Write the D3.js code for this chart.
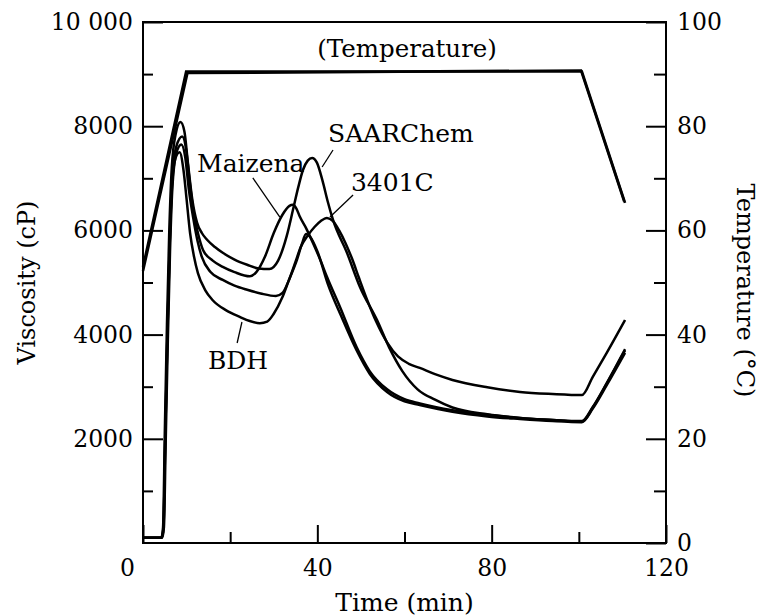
<!DOCTYPE html>
<html>
<head>
<meta charset="utf-8">
<script src="https://cdn.jsdelivr.net/npm/d3@7/dist/d3.min.js"></script>
<style>
    body { margin: 0; background: #fff; }
    text { font-family: "DejaVu Serif", serif; fill: #000; }
</style>
</head>
<body>
<script>
// viscosity runs (time in min, viscosity in cP)
var saarT = [0, 4.2, 4.6, 5.0, 5.5, 6.0, 6.6, 7.5, 8.6, 9.5, 10.3, 11.3, 12.4, 13.5, 14.7, 16.5, 18.3, 21, 23.9, 26.5, 29, 31, 33, 34.4, 35.6, 36.7, 37.8, 38.8, 39.9, 41.2, 42.4, 43.6, 46.8, 49.8, 53.7, 56.5, 59.5, 63, 67, 71, 79, 86.5, 94, 100.7, 103.2, 106.4, 110.6];
var saarV = [100, 100, 300, 2100, 4200, 5900, 7200, 7850, 8080, 7900, 7300, 6600, 6150, 5950, 5820, 5680, 5570, 5440, 5340, 5270, 5260, 5420, 5900, 6390, 6820, 7160, 7340, 7390, 7300, 6950, 6550, 6200, 5570, 4910, 4280, 3750, 3300, 2950, 2750, 2600, 2470, 2400, 2360, 2330, 2600, 3060, 3700];

var mazT = [0, 4.3, 4.7, 5.1, 5.6, 6.1, 6.7, 7.6, 9.0, 9.9, 10.7, 11.6, 12.6, 13.8, 16, 18.3, 21, 24.5, 26, 28, 30, 32, 33.6, 34.4, 35.2, 36, 37.5, 39, 40.6, 42.2, 45.2, 49, 52, 56, 60, 63.5, 71, 79, 86.5, 94, 100.7, 103.2, 106.4, 110.6];
var mazV = [100, 100, 300, 2000, 4000, 5700, 7000, 7600, 7800, 7550, 6950, 6350, 5950, 5620, 5420, 5300, 5200, 5120, 5200, 5500, 5950, 6300, 6470, 6490, 6420, 6260, 6030, 5760, 5450, 5110, 4530, 3760, 3300, 2950, 2760, 2680, 2550, 2460, 2400, 2360, 2340, 2610, 3070, 3720];

var c34T = [0, 4.4, 4.8, 5.2, 5.7, 6.2, 6.8, 7.7, 8.8, 9.7, 10.5, 11.5, 12.5, 13.5, 15.5, 18.3, 21, 23.9, 27, 30.5, 32, 33.5, 35, 36.2, 37.8, 39.4, 40.8, 42.2, 43.6, 45, 46.5, 48, 49.5, 51.5, 53.5, 56, 58.5, 61, 63.5, 67, 71, 79, 86.5, 94, 100.7, 103.2, 106.4, 110.6];
var c34V = [100, 100, 300, 1900, 3900, 5600, 6900, 7500, 7650, 7400, 6800, 6250, 5800, 5490, 5200, 5050, 4940, 4860, 4790, 4740, 4800, 5050, 5400, 5680, 5900, 6070, 6180, 6240, 6180, 6000, 5750, 5450, 5100, 4650, 4250, 3850, 3580, 3440, 3360, 3240, 3130, 2990, 2900, 2860, 2840, 3190, 3650, 4280];

var bdhT = [0, 4.3, 4.7, 5.1, 5.6, 6.1, 6.7, 7.5, 8.4, 9.3, 10.0, 10.8, 11.7, 12.6, 14.3, 16, 19, 22.2, 24.5, 26.8, 28.5, 30, 32, 33.5, 35.3, 36.5, 37.4, 38.3, 40, 42.5, 45.5, 49, 52, 56, 60, 63.5, 71, 79, 86.5, 94, 100.7, 103.2, 106.4, 110.6];
var bdhV = [100, 100, 300, 2000, 4000, 5650, 6900, 7400, 7500, 7150, 6600, 5950, 5500, 5180, 4850, 4660, 4470, 4340, 4260, 4220, 4250, 4400, 4720, 5050, 5430, 5750, 5930, 5880, 5600, 4950, 4350, 3700, 3250, 2900, 2720, 2650, 2520, 2430, 2380, 2340, 2320, 2580, 3030, 3650];

// temperature program (two overlapping runs), deg C
var tempT = [0, 9.9, 100.7, 110.6];
var tempV = [53, 90.5, 90.5, 65.3];
var temp2T = [0, 10.2, 100.5, 110.4];
var temp2V = [52.2, 90.2, 90.7, 65.6];

// ticks
var xMajor = [0, 40, 80, 120], xMinor = [20, 60, 100];
var yMajor = [2000, 4000, 6000, 8000, 10000], yMinor = [1000, 3000, 5000, 7000, 9000];
var tMajor = [0, 20, 40, 60, 80, 100], tMinor = [10, 30, 50, 70, 90];

// labels: [text, time, viscosity]
var labels = [
    ["Maizena", 12.4, 7294],
    ["SAARChem", 42.45, 7870],
    ["3401C", 47.7, 6929],
    ["BDH", 14.9, 3512]
];
// leader lines: [t1, v1, t2, v2]
var leaders = [
    [25.2, 7006, 31.4, 6257],
    [43.6, 7543, 41.1, 7217],
    [48.2, 6680, 42.9, 6257],
    [22.7, 4242, 21.6, 3839]
];

var margin = {top: 22, right: 97, bottom: 73, left: 143}
    , width = 763 - margin.left - margin.right
    , height = 616 - margin.top - margin.bottom;

var svg = d3.select('body').append('svg').attr('width', 763).attr('height', 616);
var main = svg.append('g')
    .attr('transform', 'translate(' + margin.left + ',' + margin.top + ')');

var x = d3.scaleLinear().domain([0, 120]).range([0, width]);
var y = d3.scaleLinear().domain([0, 10000]).range([height, 0]);
var yT = d3.scaleLinear().domain([0, 100]).range([height, 0]);

function styleAxis(g) {
    g.select('.domain').remove();
    g.selectAll('line').attr('stroke', '#000').attr('stroke-width', 2);
    g.attr('font-family', '"DejaVu Serif", serif').attr('font-size', 23.5);
}

// bottom axis
main.append('g').attr('transform', 'translate(0,' + height + ')')
    .call(d3.axisBottom(x).tickValues(xMajor).tickSize(-18).tickPadding(16).tickFormat(d3.format('d')))
    .call(styleAxis)
    .selectAll('text').filter(function (d) { return d === 0; })
    .attr('x', -16);
main.append('g').attr('transform', 'translate(0,' + height + ')')
    .call(d3.axisBottom(x).tickValues(xMinor).tickSize(-11).tickFormat(''))
    .call(styleAxis);

// left axis
main.append('g')
    .call(d3.axisLeft(y).tickValues(yMajor).tickSize(-20).tickPadding(10)
        .tickFormat(function (d) { return d === 10000 ? '10 000' : String(d); }))
    .call(styleAxis);
main.append('g')
    .call(d3.axisLeft(y).tickValues(yMinor).tickSize(-10).tickFormat(''))
    .call(styleAxis);

// right axis (temperature)
main.append('g').attr('transform', 'translate(' + width + ',0)')
    .call(d3.axisRight(yT).tickValues(tMajor).tickSize(-20).tickPadding(11).tickFormat(d3.format('d')))
    .call(styleAxis);
main.append('g').attr('transform', 'translate(' + width + ',0)')
    .call(d3.axisRight(yT).tickValues(tMinor).tickSize(-12).tickFormat(''))
    .call(styleAxis);

// frame
main.append('rect').attr('width', width).attr('height', height)
    .attr('fill', 'none').attr('stroke', '#000').attr('stroke-width', 2);

var vline = d3.line()
    .x(function (d) { return x(d[0]); })
    .y(function (d) { return y(d[1]); })
    .curve(d3.curveMonotoneX);
var tline = d3.line()
    .x(function (d) { return x(d[0]); })
    .y(function (d) { return yT(d[1]); });

[[saarT, saarV], [mazT, mazV], [c34T, c34V], [bdhT, bdhV]].forEach(function (s) {
    main.append('path')
        .datum(d3.zip(s[0], s[1]))
        .attr('d', vline)
        .attr('fill', 'none')
        .attr('stroke', '#000')
        .attr('stroke-width', 2.5)
        .attr('stroke-linejoin', 'round');
});

[[tempT, tempV], [temp2T, temp2V]].forEach(function (s) {
    main.append('path')
        .datum(d3.zip(s[0], s[1]))
        .attr('d', tline)
        .attr('fill', 'none')
        .attr('stroke', '#000')
        .attr('stroke-width', 2.6);
});

// leader lines and curve names
main.selectAll('.leader').data(leaders).enter().append('line')
    .attr('x1', function (d) { return x(d[0]); })
    .attr('y1', function (d) { return y(d[1]); })
    .attr('x2', function (d) { return x(d[2]); })
    .attr('y2', function (d) { return y(d[3]); })
    .attr('stroke', '#000').attr('stroke-width', 1.3);

main.selectAll('.lab').data(labels).enter().append('text')
    .attr('x', function (d) { return x(d[1]); })
    .attr('y', function (d) { return y(d[2]); })
    .attr('dy', '0.35em')
    .attr('font-size', 25)
    .text(function (d) { return d[0]; });

main.append('text')
    .attr('x', x(60.6)).attr('y', y(9501)).attr('dy', '0.35em')
    .attr('text-anchor', 'middle').attr('font-size', 24.5)
    .text('(Temperature)');

// axis titles
svg.append('text')
    .attr('x', margin.left + width / 2).attr('y', 611)
    .attr('text-anchor', 'middle').attr('font-size', 25)
    .text('Time (min)');

svg.append('text')
    .attr('transform', 'translate(27,' + (margin.top + height / 2) + ') rotate(-90)')
    .attr('dy', '0.35em')
    .attr('text-anchor', 'middle').attr('font-size', 24)
    .text('Viscosity (cP)');

svg.append('text')
    .attr('transform', 'translate(745,' + (margin.top + height / 2 + 8) + ') rotate(90)')
    .attr('dy', '0.35em')
    .attr('text-anchor', 'middle').attr('font-size', 24)
    .text('Temperature (°C)');
</script>
</body>
</html>
